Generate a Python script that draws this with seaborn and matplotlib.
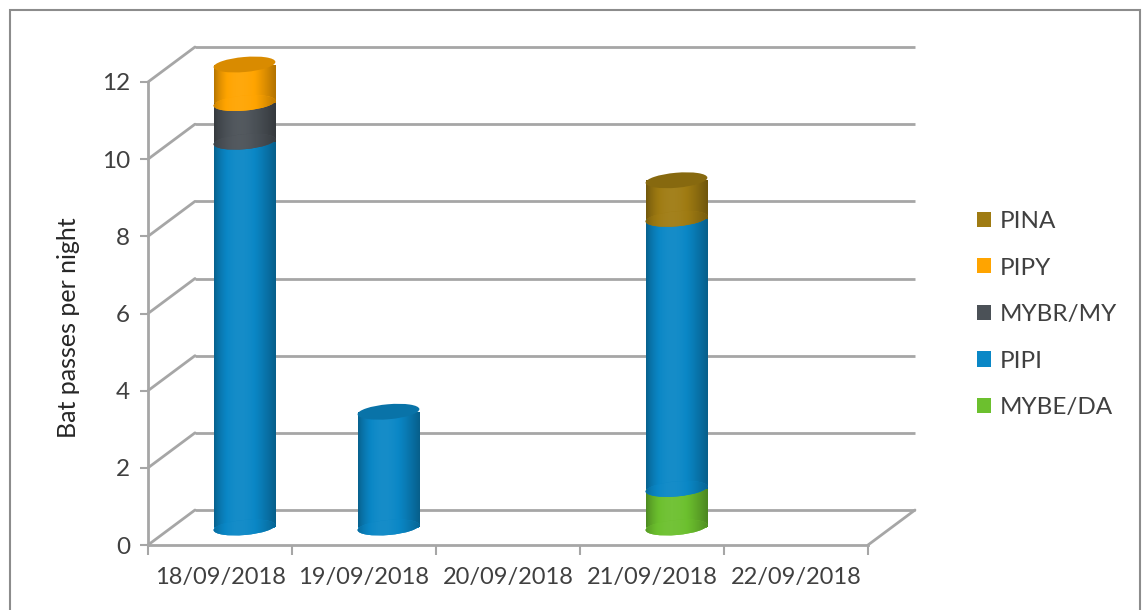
import numpy as np
import matplotlib
matplotlib.use("Agg")
import matplotlib.pyplot as plt
import seaborn as sns
from matplotlib.patches import Ellipse, Rectangle, Patch
from matplotlib import transforms
from matplotlib.colors import to_rgb

# ---------------- data ----------------
dates = ["18/09/2018", "19/09/2018", "20/09/2018", "21/09/2018", "22/09/2018"]
mybe_da = [0, 0, 0, 1, 0]
pipi = [10, 3, 0, 7, 0]
mybr_my = [1, 0, 0, 0, 0]
pipy = [1, 0, 0, 0, 0]
pina = [0, 0, 0, 1, 0]
series_names = ["MYBE/DA", "PIPI", "MYBR/MY", "PIPY", "PINA"]   # stacking order, bottom -> top
series_values = [mybe_da, pipi, mybr_my, pipy, pina]
y_ticks = [0, 2, 4, 6, 8, 10, 12]
y_label = "Bat passes per night"

colors = {"MYBE/DA": "#6cc02e", "PIPI": "#0a87c6", "MYBR/MY": "#4b5157",
          "PIPY": "#ffa400", "PINA": "#9f7b12"}

# ---------------- style ----------------
sns.set_theme(style="white")
plt.rcParams["font.family"] = ["Lato", "DejaVu Sans"]
TXT = "#404040"
GRID = "#a6a6a6"

W, H = 1143, 610
fig = plt.figure(figsize=(W / 100, H / 100), dpi=100)
ax = fig.add_axes([148 / W, (H - 545) / H, 720 / W, 463 / H])
ncat = len(dates)

# 3-D box offsets (data units)
DX = 47 / 144.0
DY = 35 / (463 / 12.0)
BX = 0.17          # bar shift to mid depth
BY = DY / 2
BW = 0.43
EW_PX, EH_PX, TILT = 62, 15, 5

# back wall gridlines + left wall diagonals
for v in y_ticks:
    ax.plot([DX, ncat + DX], [v + DY, v + DY], color=GRID, lw=2, clip_on=False, zorder=1,
            solid_capstyle="butt")
    ax.plot([0, DX], [v, v + DY], color=GRID, lw=2, clip_on=False, zorder=1)
# floor right edge
ax.plot([ncat, ncat + DX], [0, DY], color=GRID, lw=2, clip_on=False, zorder=1)


def shade_img(color):
    base = np.array(to_rgb(color))
    t = np.linspace(0, 1, 256)
    m = 0.70 + 0.38 * np.sin(np.pi * t ** 0.8)
    out = np.empty((1, 256, 3))
    for i, mi in enumerate(m):
        if mi <= 1:
            out[0, i] = base * mi
        else:
            out[0, i] = base + (1 - base) * (mi - 1) * 0.6
    return np.clip(out, 0, 1)


def px_ellipse(x, y, z, fc):
    tr = transforms.ScaledTranslation(x, y, ax.transData)
    e = Ellipse((0, 0), EW_PX, EH_PX, angle=TILT, transform=tr, facecolor=fc,
                edgecolor="none", zorder=z, clip_on=False)
    ax.add_patch(e)
    return e


for i in range(ncat):
    x = i + 0.5 + BX
    bottom = 0.0
    segs = [(n, vals[i]) for n, vals in zip(series_names, series_values) if vals[i] > 0]
    for k, (name, h) in enumerate(segs):
        z = 3 + k * 0.5
        col = colors[name]
        img = shade_img(col)
        bars = ax.bar([x], [h], width=BW, bottom=bottom + BY, color=col, linewidth=0,
                      zorder=z, clip_on=False)
        rect = bars[0]
        im = ax.imshow(img, extent=[x - BW / 2, x + BW / 2, bottom + BY, bottom + BY + h],
                       aspect="auto", interpolation="bilinear", zorder=z + 0.01)
        im.set_clip_path(rect)
        e = px_ellipse(x, bottom + BY, z + 0.02, col)
        im2 = ax.imshow(img, extent=[x - BW / 2 - 0.02, x + BW / 2 + 0.02, bottom + BY - 0.5, bottom + BY + 0.5],
                        aspect="auto", interpolation="bilinear", zorder=z + 0.03)
        im2.set_clip_path(e)
        bottom += h
        if k == len(segs) - 1:
            top = np.array(to_rgb(col)) * 0.85
            px_ellipse(x, bottom + BY, z + 0.1, top)

ax.set_xlim(0, ncat)
ax.set_ylim(0, 12)

# axes / ticks
for s in ["top", "right"]:
    ax.spines[s].set_visible(False)
for s in ["left", "bottom"]:
    ax.spines[s].set_color(GRID)
    ax.spines[s].set_linewidth(2)
    ax.spines[s].set_zorder(2)
ax.set_yticks(y_ticks)
ax.set_yticklabels([str(v) for v in y_ticks])
ax.set_xticks(range(ncat + 1))
ax.set_xticklabels([])
ax.set_xticks([i + 0.5 for i in range(ncat)], minor=True)
ax.set_xticklabels(dates, minor=True)
ax.tick_params(axis="y", which="major", left=True, length=6, width=1.5, color=GRID,
               labelsize=17.5, labelcolor=TXT, pad=7)
ax.tick_params(axis="x", which="major", bottom=True, length=7, width=1.5, color=GRID)
ax.tick_params(axis="x", which="minor", bottom=True, length=0, labelsize=17,
               labelcolor=TXT, pad=16)
ax.grid(False)
ax.patch.set_alpha(0)

fig.text(68 / W, 1 - 328 / H, y_label, rotation=90, ha="center", va="center",
         fontsize=18, color="#262626")

# legend (top to bottom reversed)
handles = [Patch(facecolor=colors[n], edgecolor="none") for n in reversed(series_names)]
fig.legend(handles, list(reversed(series_names)), loc="upper left",
           bbox_to_anchor=(977 / W, 1 - 211 / H), frameon=False, fontsize=17.5,
           labelcolor=TXT, handlelength=0.58, handleheight=0.58, handletextpad=0.35,
           labelspacing=1.05, borderpad=0, borderaxespad=0)

# outer border
fig.add_artist(Rectangle((10 / W, -0.05), 1130 / W, 1.05 - 10 / H, transform=fig.transFigure,
                         fill=False, edgecolor="#8c8c8c", lw=1.5))

fig.savefig("out.png", dpi=100)
